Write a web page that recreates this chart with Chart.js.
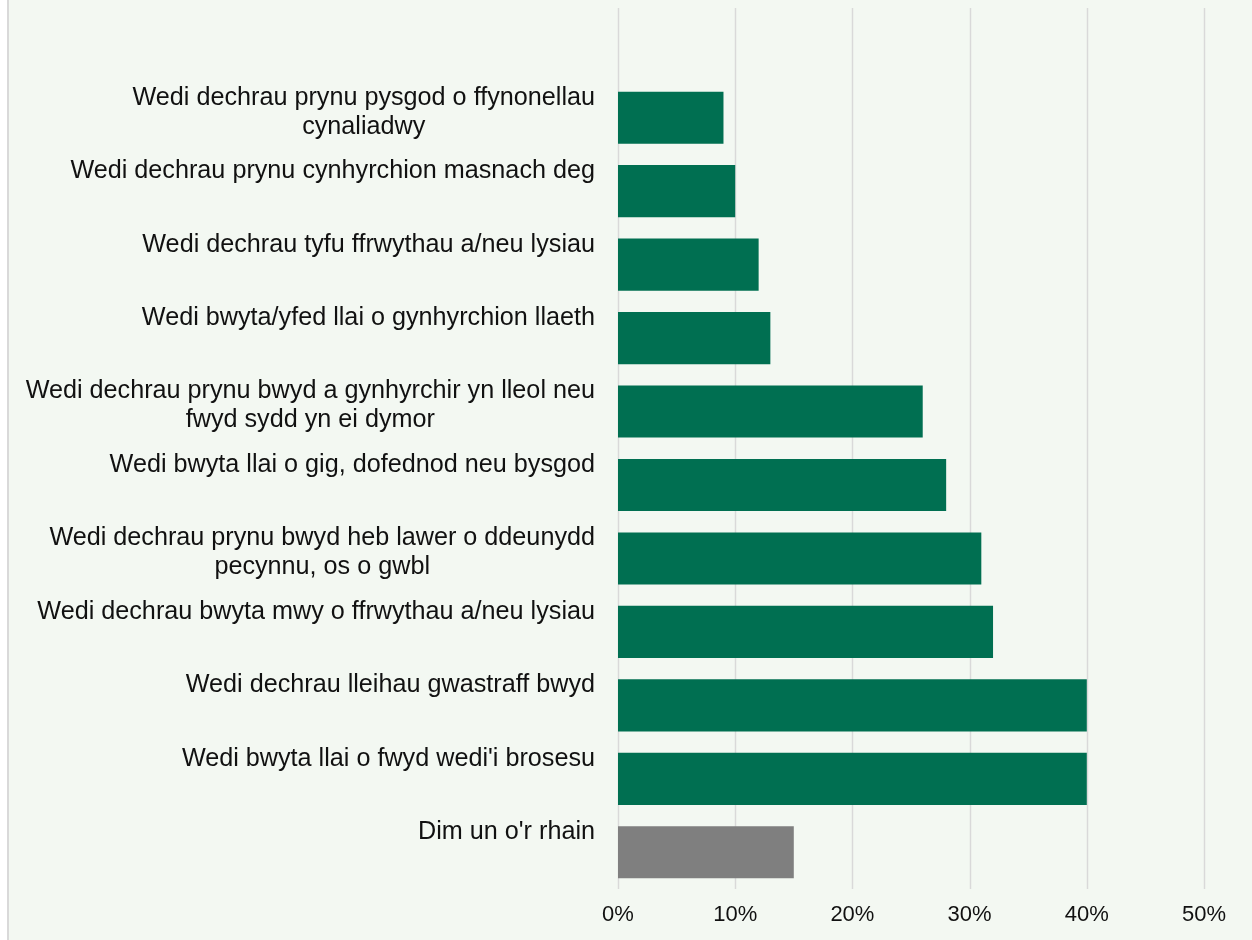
<!DOCTYPE html>
<html>
<head>
<meta charset="utf-8">
<script src="https://cdn.jsdelivr.net/npm/chart.js@4/dist/chart.umd.min.js"></script>
<style>
  html, body { margin: 0; padding: 0; background: #ffffff; }
  #wrap {
    position: absolute; left: 7px; top: 0;
    width: 1243px; height: 940px;
    border-left: 2px solid #d9d9d9;
    background: #f3f8f2;
  }
</style>
</head>
<body>
<div id="wrap"><canvas id="grafico"></canvas></div>
<script>
// categorias (linhas quebradas como na imagem)
const categorias = [
  ["Wedi dechrau prynu pysgod o ffynonellau", "cynaliadwy"],
  "Wedi dechrau prynu cynhyrchion masnach deg",
  "Wedi dechrau tyfu ffrwythau a/neu lysiau",
  "Wedi bwyta/yfed llai o gynhyrchion llaeth",
  ["Wedi dechrau prynu bwyd a gynhyrchir yn lleol neu", "fwyd sydd yn ei dymor"],
  "Wedi bwyta llai o gig, dofednod neu bysgod",
  ["Wedi dechrau prynu bwyd heb lawer o ddeunydd", "pecynnu, os o gwbl"],
  "Wedi dechrau bwyta mwy o ffrwythau a/neu lysiau",
  "Wedi dechrau lleihau gwastraff bwyd",
  "Wedi bwyta llai o fwyd wedi'i brosesu",
  "Dim un o'r rhain"
];
const valores = [9, 10, 12, 13, 26, 28, 31, 32, 40, 40, 15];
const cores = ["#006f51", "#006f51", "#006f51", "#006f51", "#006f51", "#006f51",
               "#006f51", "#006f51", "#006f51", "#006f51", "#7f7f7f"];
const ticksX = [0, 10, 20, 30, 40, 50];

const fonteRotulo = '25.2px "Liberation Sans", Arial, sans-serif';

// linhas de grade verticais que sobem até o topo (como no Excel)
const gradeAlta = {
  id: 'gradeAlta',
  beforeDatasetsDraw(chart) {
    const ctx = chart.ctx;
    const x = chart.scales.x;
    ctx.save();
    ctx.strokeStyle = '#d9d9d9';
    ctx.lineWidth = 1.5;
    ticksX.forEach(v => {
      const px = Math.round(x.getPixelForValue(v)) + 0.5;
      ctx.beginPath();
      ctx.moveTo(px, 8);
      ctx.lineTo(px, chart.chartArea.bottom);
      ctx.stroke();
    });
    ctx.restore();
  }
};

// rótulos do eixo y: bloco alinhado à direita, linhas centralizadas
const rotulosY = {
  id: 'rotulosY',
  afterDraw(chart) {
    const ctx = chart.ctx;
    const y = chart.scales.y;
    const direita = chart.chartArea.left - 23;
    ctx.save();
    ctx.font = fonteRotulo;
    ctx.fillStyle = '#111111';
    ctx.textBaseline = 'middle';
    ctx.textAlign = 'center';
    categorias.forEach((cat, i) => {
      const linhas = Array.isArray(cat) ? cat : [cat];
      const largura = Math.max(...linhas.map(l => ctx.measureText(l).width));
      const cx = direita - largura / 2;
      const cy = y.getPixelForValue(i) - 20;
      linhas.forEach((l, k) => ctx.fillText(l, cx, cy + k * 29));
    });
    ctx.restore();
  }
};

const ctx = document.getElementById('grafico').getContext('2d');
const meuGrafico = new Chart(ctx, {
  type: 'bar',
  data: {
    labels: categorias,
    datasets: [{
      data: valores,
      backgroundColor: cores,
      borderWidth: 0,
      categoryPercentage: 1,
      barPercentage: 0.71
    }]
  },
  options: {
    indexAxis: 'y',
    responsive: true,
    maintainAspectRatio: false,
    animation: false,
    layout: { padding: { top: 81, right: 48, bottom: 0, left: 0 } },
    plugins: {
      legend: { display: false },
      tooltip: { enabled: false }
    },
    scales: {
      x: {
        min: 0,
        max: 50,
        afterBuildTicks: s => { s.ticks = ticksX.map(v => ({ value: v })); },
        afterFit: s => { s.height = 51; },
        grid: { display: false, drawTicks: false },
        border: { display: false },
        ticks: {
          padding: 13,
          color: '#111111',
          font: { family: '"Liberation Sans", Arial, sans-serif', size: 22 },
          callback: v => v + '%'
        }
      },
      y: {
        grid: { display: false },
        border: { display: false },
        ticks: { display: false },
        afterFit: s => { s.width = 609; }
      }
    }
  },
  plugins: [gradeAlta, rotulosY]
});
</script>
</body>
</html>
